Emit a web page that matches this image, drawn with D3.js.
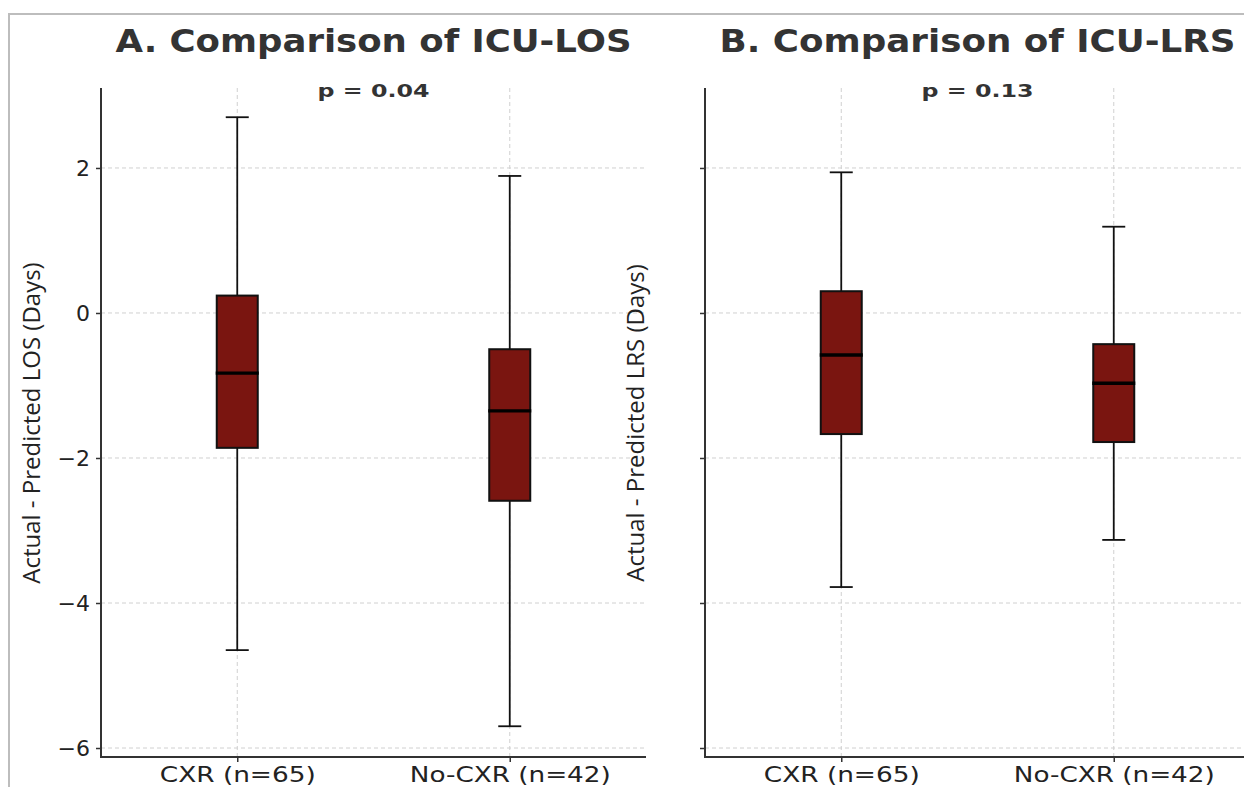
<!DOCTYPE html>
<html>
<head>
<meta charset="utf-8">
<script src="https://cdn.jsdelivr.net/npm/d3@7"></script>
<style>
  body { margin: 0; background: #fff; }
  svg { display: block; }
</style>
</head>
<body>
<div id="chart"></div>
<script>
// groups and their box stats: [whiskerLow, q1, median, q3, whiskerHigh]
var categories = ["CXR (n=65)", "No-CXR (n=42)"];
var losStats = [
  [-4.65, -1.86, -0.83, 0.24, 2.70],
  [-5.70, -2.59, -1.35, -0.50, 1.89]
];
var lrsStats = [
  [-3.78, -1.67, -0.58, 0.30, 1.94],
  [-3.13, -1.78, -0.97, -0.43, 1.19]
];
var yTicks = [-6, -4, -2, 0, 2];
var panels = [
  { title: "A. Comparison of ICU-LOS", p: "p = 0.04", ylabel: "Actual - Predicted LOS (Days)", stats: losStats },
  { title: "B. Comparison of ICU-LRS", p: "p = 0.13", ylabel: "Actual - Predicted LRS (Days)", stats: lrsStats }
];

var W = 1244, H = 787;
var svg = d3.select("#chart").append("svg")
    .attr("width", W)
    .attr("height", H);

svg.append("rect").attr("width", W).attr("height", H).attr("fill", "#fff");

// outer frame (only top and left visible in the crop)
svg.append("path")
    .attr("d", "M9,787 V14 H1244")
    .attr("fill", "none")
    .attr("stroke", "#bdbdbd")
    .attr("stroke-width", 2);

var plotTop = 88, plotBottom = 757;
var y = d3.scaleLinear().domain([-6.124, 3.103]).range([plotBottom, plotTop]);

var panelLeft = [101, 705];
var panelWidth = 545;
var boxColor = "#7a1510";
var labelWidths = [156, 201];   // the picture's labels are drawn a little wide

panels.forEach(function (panel, i) {
  var left = panelLeft[i];
  var right = left + panelWidth;
  var g = svg.append("g");

  var x = d3.scalePoint()
      .domain(categories)
      .range([left, right])
      .padding(0.5);

  var boxW = 41, capW = 23;

  // grid
  g.selectAll(".hgrid").data(yTicks).enter().append("line")
      .attr("x1", left).attr("x2", right)
      .attr("y1", function (d) { return y(d); })
      .attr("y2", function (d) { return y(d); })
      .attr("stroke", "#d0d0d0")
      .attr("stroke-width", 1)
      .attr("stroke-dasharray", "4,3");

  g.selectAll(".vgrid").data(categories).enter().append("line")
      .attr("x1", function (d) { return x(d); })
      .attr("x2", function (d) { return x(d); })
      .attr("y1", plotTop).attr("y2", plotBottom)
      .attr("stroke", "#d0d0d0")
      .attr("stroke-width", 1)
      .attr("stroke-dasharray", "4,3");

  // boxes
  var boxes = g.selectAll(".box").data(panel.stats).enter().append("g");
  boxes.each(function (s, j) {
    var bg = d3.select(this);
    var cx = x(categories[j]);
    // whiskers
    bg.append("line")
        .attr("x1", cx).attr("x2", cx)
        .attr("y1", y(s[4])).attr("y2", y(s[3]))
        .attr("stroke", "#111").attr("stroke-width", 1.8);
    bg.append("line")
        .attr("x1", cx).attr("x2", cx)
        .attr("y1", y(s[1])).attr("y2", y(s[0]))
        .attr("stroke", "#111").attr("stroke-width", 1.8);
    // caps
    [s[0], s[4]].forEach(function (v) {
      bg.append("line")
          .attr("x1", cx - capW / 2).attr("x2", cx + capW / 2)
          .attr("y1", y(v)).attr("y2", y(v))
          .attr("stroke", "#111").attr("stroke-width", 1.8);
    });
    bg.append("rect")
        .attr("x", cx - boxW / 2)
        .attr("y", y(s[3]))
        .attr("width", boxW)
        .attr("height", y(s[1]) - y(s[3]))
        .attr("fill", boxColor)
        .attr("stroke", "#111")
        .attr("stroke-width", 2);
    bg.append("line")
        .attr("x1", cx - boxW / 2 - 1).attr("x2", cx + boxW / 2 + 1)
        .attr("y1", y(s[2])).attr("y2", y(s[2]))
        .attr("stroke", "#000").attr("stroke-width", 3.4);
  });

  // axes
  var yAxis = d3.axisLeft(y).tickValues(yTicks).tickSize(5).tickPadding(6)
      .tickFormat(i === 0 ? function (d) { return d < 0 ? "\u2212" + Math.abs(d) : d; } : "");
  var ya = g.append("g").attr("transform", "translate(" + left + ",0)").call(yAxis);
  ya.select(".domain").remove();
  ya.selectAll("line").attr("stroke", "#333").attr("stroke-width", 1.5);
  ya.selectAll("text")
      .attr("fill", "#222")
      .style("font-family", "DejaVu Sans")
      .style("font-size", "22px");

  var xAxis = d3.axisBottom(x).tickSize(5).tickPadding(3);
  var xa = g.append("g").attr("transform", "translate(0," + plotBottom + ")").call(xAxis);
  xa.select(".domain").remove();
  xa.selectAll("line").attr("stroke", "#333").attr("stroke-width", 1.5);
  xa.selectAll("text")
      .attr("fill", "#222")
      .attr("dy", "0.8em")
      .style("font-family", "DejaVu Sans")
      .style("font-size", "21px")
      .attr("textLength", function (d, k) { return labelWidths[k]; })
      .attr("lengthAdjust", "spacingAndGlyphs");

  // spines
  g.append("path")
      .attr("d", "M" + left + "," + plotTop + " V" + plotBottom + " H" + right)
      .attr("fill", "none")
      .attr("stroke", "#333")
      .attr("stroke-width", 2);

  // title
  var mid = (left + right) / 2;
  g.append("text")
      .attr("x", mid).attr("y", 52)
      .attr("text-anchor", "middle")
      .attr("fill", "#333")
      .style("font-family", "DejaVu Sans")
      .style("font-weight", "bold")
      .style("font-size", "32px")
      .attr("textLength", 516)
      .attr("lengthAdjust", "spacingAndGlyphs")
      .text(panel.title);

  g.append("text")
      .attr("x", mid).attr("y", 97)
      .attr("text-anchor", "middle")
      .attr("fill", "#333")
      .style("font-family", "DejaVu Sans")
      .style("font-weight", "bold")
      .style("font-size", "18.5px")
      .attr("textLength", 112)
      .attr("lengthAdjust", "spacingAndGlyphs")
      .text(panel.p);

  g.append("text")
      .attr("transform", "translate(" + (left - 61) + "," + 423 + ") rotate(-90)")
      .attr("text-anchor", "middle")
      .attr("fill", "#222")
      .style("font-family", "Open Sans")
      .style("font-size", "24px")
      .text(panel.ylabel);
});
</script>
</body>
</html>
